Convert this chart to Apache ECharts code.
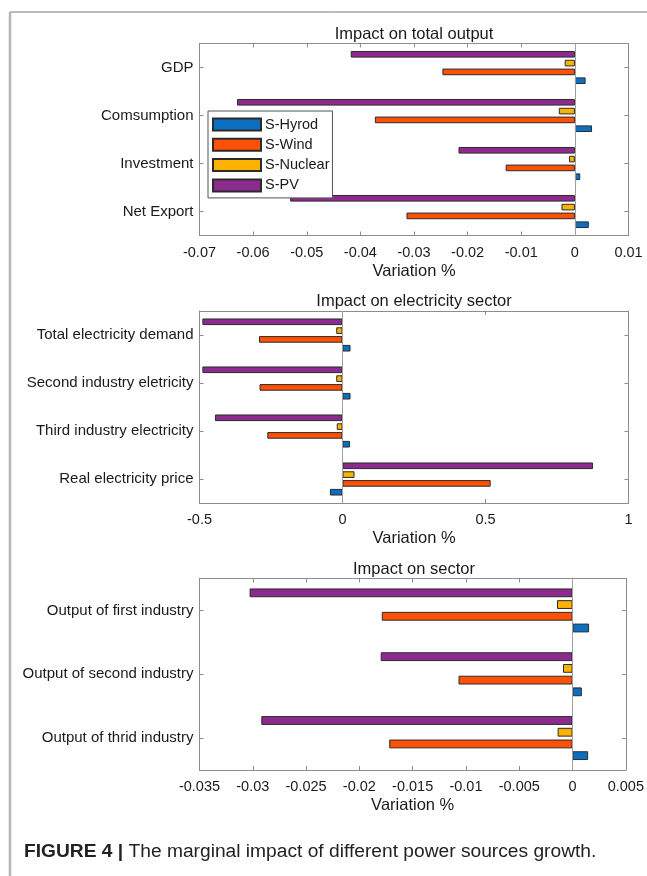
<!DOCTYPE html>
<html>
<head>
<meta charset="utf-8">
<script src="https://cdn.jsdelivr.net/npm/echarts@6/dist/echarts.min.js"></script>
<style>
  html, body { margin: 0; padding: 0; background: #fff; }
  #chart { width: 647px; height: 876px; }
</style>
</head>
<body>
<div id="chart"></div>
<script>
// Data (variation in %)
const seriesNames = ['S-Hyrod', 'S-Wind', 'S-Nuclear', 'S-PV'];
const seriesColors = ['#0d6fc1', '#fc5106', '#fdb103', '#8c2a8d'];

// Panel 1: Impact on total output
const outputCats = ['GDP', 'Comsumption', 'Investment', 'Net Export'];
const outputHydro = [0.0020, 0.0032, 0.0010, 0.0026];
const outputWind = [-0.0247, -0.0373, -0.0129, -0.0314];
const outputNuclear = [-0.0019, -0.0030, -0.0011, -0.0025];
const outputPV = [-0.0418, -0.0630, -0.0217, -0.0531];

// Panel 2: Impact on electricity sector
const elecCats = ['Total electricity demand', 'Second industry eletricity', 'Third industry electricity', 'Real electricity price'];
const elecHydro = [0.028, 0.028, 0.026, -0.044];
const elecWind = [-0.292, -0.290, -0.263, 0.518];
const elecNuclear = [-0.022, -0.022, -0.020, 0.042];
const elecPV = [-0.490, -0.490, -0.446, 0.876];

// Panel 3: Impact on sector
const sectorCats = ['Output of first industry', 'Output of second industry', 'Output of thrid industry'];
const sectorHydro = [0.00155, 0.00087, 0.00146];
const sectorWind = [-0.0179, -0.0107, -0.0172];
const sectorNuclear = [-0.00146, -0.0009, -0.0014];
const sectorPV = [-0.0303, -0.0180, -0.0292];

const FONT = '"Liberation Sans", Arial, Helvetica, sans-serif';
const AXIS_COLOR = '#8c8c8c';
const TEXT_COLOR = '#1a1a1a';

const panels = [
  { title: 'Impact on total output', top: 43.5, height: 192, cats: outputCats,
    min: -0.07, max: 0.01, interval: 0.01,
    values: [outputHydro, outputWind, outputNuclear, outputPV] },
  { title: 'Impact on electricity sector', top: 311, height: 192, cats: elecCats,
    min: -0.5, max: 1, interval: 0.5,
    values: [elecHydro, elecWind, elecNuclear, elecPV] },
  { title: 'Impact on sector', top: 578.5, height: 191.5, cats: sectorCats,
    min: -0.035, max: 0.005, interval: 0.005,
    values: [sectorHydro, sectorWind, sectorNuclear, sectorPV] }
];

const PLOT_LEFT = 199.5;
const PLOT_RIGHT = 18.5;

const grid = [], xAxis = [], yAxis = [], series = [], graphic = [];

panels.forEach((p, i) => {
  grid.push({ left: PLOT_LEFT, right: PLOT_RIGHT, top: p.top, height: p.height, containLabel: false });

  // bottom value axis with labels
  xAxis.push({
    type: 'value', gridIndex: i, min: p.min, max: p.max, interval: p.interval,
    position: 'bottom',
    name: 'Variation %', nameLocation: 'middle', nameGap: 27,
    nameTextStyle: { fontFamily: FONT, fontSize: 16.5, color: TEXT_COLOR },
    axisLine: { show: true, onZero: false, lineStyle: { color: AXIS_COLOR, width: 1 } },
    axisTick: { show: true, inside: true, length: 4, lineStyle: { color: AXIS_COLOR } },
    axisLabel: { fontFamily: FONT, fontSize: 14.5, color: TEXT_COLOR, margin: 9.5 },
    splitLine: { show: false }
  });
  // mirrored top axis (box with ticks)
  xAxis.push({
    type: 'value', gridIndex: i, min: p.min, max: p.max, interval: p.interval,
    position: 'top',
    axisLine: { show: true, onZero: false, lineStyle: { color: AXIS_COLOR, width: 1 } },
    axisTick: { show: true, inside: true, length: 4, lineStyle: { color: AXIS_COLOR } },
    axisLabel: { show: false },
    splitLine: { show: false }
  });

  // left category axis with labels
  yAxis.push({
    type: 'category', gridIndex: i, data: p.cats, inverse: true, position: 'left',
    axisLine: { show: true, onZero: false, lineStyle: { color: AXIS_COLOR, width: 1 } },
    axisTick: { show: true, inside: true, length: 4, alignWithLabel: true, lineStyle: { color: AXIS_COLOR } },
    axisLabel: { fontFamily: FONT, fontSize: 15, color: TEXT_COLOR, margin: 6 }
  });
  // mirrored right axis
  yAxis.push({
    type: 'category', gridIndex: i, data: p.cats, inverse: true, position: 'right',
    axisLine: { show: true, onZero: false, lineStyle: { color: AXIS_COLOR, width: 1 } },
    axisTick: { show: true, inside: true, length: 4, alignWithLabel: true, lineStyle: { color: AXIS_COLOR } },
    axisLabel: { show: false }
  });

  // bars: PV on top, Hydro at the bottom of each group
  [3, 2, 1, 0].forEach((s, k) => {
    const bar = {
      name: seriesNames[s], type: 'bar',
      xAxisIndex: i * 2, yAxisIndex: i * 2,
      data: p.values[s],
      barWidth: '13.8%', barGap: '33%',
      itemStyle: { color: seriesColors[s], borderColor: '#2b2b2b', borderWidth: 1 }
    };
    if (k === 0) {
      // zero baseline like in barh
      bar.markLine = {
        silent: true, symbol: 'none', label: { show: false },
        lineStyle: { color: '#a0a0a0', width: 1, type: 'solid' },
        data: [{ xAxis: 0 }]
      };
    }
    series.push(bar);
  });

  // panel title
  graphic.push({
    type: 'text', x: PLOT_LEFT + (647 - PLOT_LEFT - PLOT_RIGHT) / 2, y: p.top - 9.5,
    style: { text: p.title, align: 'center', verticalAlign: 'middle',
             font: '16.5px ' + FONT, fill: TEXT_COLOR }
  });
});

// figure frame and caption
graphic.push({ type: 'line', shape: { x1: 10, y1: 12, x2: 647, y2: 12 }, style: { stroke: '#777', lineWidth: 1 } });
graphic.push({ type: 'line', shape: { x1: 10, y1: 12, x2: 10, y2: 876 }, style: { stroke: '#b5b5b5', lineWidth: 2.5 } });
graphic.push({
  type: 'text', x: 24, y: 852,
  style: {
    text: '{b|FIGURE 4 |} The marginal impact of different power sources growth.',
    verticalAlign: 'middle', font: '19.2px ' + FONT, fill: '#222',
    rich: { b: { fontWeight: 'bold', fontSize: 19.2, fontFamily: FONT, fill: '#222' } }
  }
});

const chart = echarts.init(document.getElementById('chart'), null, { renderer: 'canvas' });
chart.setOption({
  animation: false,
  backgroundColor: '#fff',
  legend: {
    data: seriesNames,
    orient: 'vertical', left: 208, top: 111,
    icon: 'rect', itemWidth: 48, itemHeight: 12, itemGap: 5.3,
    padding: [6, 3, 5, 4],
    borderColor: '#555', borderWidth: 1, backgroundColor: '#fff',
    textStyle: { fontFamily: FONT, fontSize: 14.5, color: TEXT_COLOR, padding: [0, 0, 0, -1] },
    selectedMode: false
  },
  grid, xAxis, yAxis, series, graphic
});
</script>
</body>
</html>
